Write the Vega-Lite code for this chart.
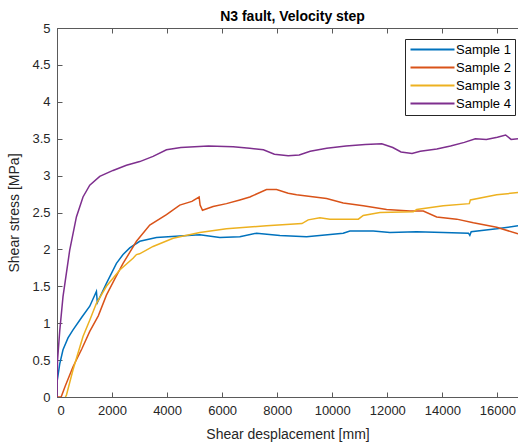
{
  "$schema": "https://vega.github.io/schema/vega-lite/v6.json",
  "width": 461,
  "height": 369,
  "autosize": {"type": "none"},
  "padding": {"left": 57, "top": 28, "right": 0, "bottom": 50},
  "background": "white",
  "title": {"text": "N3 fault, Velocity step", "font": "Liberation Sans", "fontSize": 14, "fontWeight": "bold", "color": "#000000", "anchor": "middle", "baseline": "bottom", "offset": -16, "dx": 5},
  "config": {
    "view": {"stroke": null},
    "font": "Liberation Sans",
    "axis": {"grid": false, "domainColor": "#5a5a5a", "tickColor": "#5a5a5a", "labelColor": "#262626", "titleColor": "#262626", "labelFont": "Liberation Sans", "titleFont": "Liberation Sans", "labelFontSize": 13, "titleFontSize": 14, "titleFontWeight": "normal", "tickSize": -5, "labelPadding": 12}
  },
  "data": {"values": [
    {"s":"Sample 1","x":0,"y":0.2},{"s":"Sample 1","x":100,"y":0.45},{"s":"Sample 1","x":218,"y":0.64},{"s":"Sample 1","x":400,"y":0.8},{"s":"Sample 1","x":582,"y":0.91},{"s":"Sample 1","x":900,"y":1.08},{"s":"Sample 1","x":1190,"y":1.23},{"s":"Sample 1","x":1432,"y":1.43},{"s":"Sample 1","x":1465,"y":1.28},{"s":"Sample 1","x":1796,"y":1.54},{"s":"Sample 1","x":2160,"y":1.81},{"s":"Sample 1","x":2400,"y":1.93},{"s":"Sample 1","x":2643,"y":2.02},{"s":"Sample 1","x":3007,"y":2.11},{"s":"Sample 1","x":3614,"y":2.16},{"s":"Sample 1","x":4461,"y":2.18},{"s":"Sample 1","x":5188,"y":2.2},{"s":"Sample 1","x":5916,"y":2.16},{"s":"Sample 1","x":6643,"y":2.17},{"s":"Sample 1","x":7250,"y":2.22},{"s":"Sample 1","x":8098,"y":2.19},{"s":"Sample 1","x":9068,"y":2.17},{"s":"Sample 1","x":10400,"y":2.22},{"s":"Sample 1","x":10643,"y":2.25},{"s":"Sample 1","x":11490,"y":2.25},{"s":"Sample 1","x":12097,"y":2.23},{"s":"Sample 1","x":13067,"y":2.24},{"s":"Sample 1","x":14036,"y":2.23},{"s":"Sample 1","x":14950,"y":2.22},{"s":"Sample 1","x":15000,"y":2.19},{"s":"Sample 1","x":15050,"y":2.24},{"s":"Sample 1","x":15976,"y":2.28},{"s":"Sample 1","x":16750,"y":2.32},
    {"s":"Sample 2","x":0,"y":0},{"s":"Sample 2","x":150,"y":0},{"s":"Sample 2","x":300,"y":0.15},{"s":"Sample 2","x":582,"y":0.41},{"s":"Sample 2","x":900,"y":0.65},{"s":"Sample 2","x":1190,"y":0.89},{"s":"Sample 2","x":1500,"y":1.1},{"s":"Sample 2","x":1796,"y":1.38},{"s":"Sample 2","x":2100,"y":1.6},{"s":"Sample 2","x":2400,"y":1.81},{"s":"Sample 2","x":2887,"y":2.11},{"s":"Sample 2","x":3370,"y":2.33},{"s":"Sample 2","x":3978,"y":2.47},{"s":"Sample 2","x":4461,"y":2.6},{"s":"Sample 2","x":4900,"y":2.65},{"s":"Sample 2","x":5164,"y":2.71},{"s":"Sample 2","x":5200,"y":2.6},{"s":"Sample 2","x":5286,"y":2.53},{"s":"Sample 2","x":5672,"y":2.58},{"s":"Sample 2","x":6158,"y":2.62},{"s":"Sample 2","x":6643,"y":2.67},{"s":"Sample 2","x":7007,"y":2.71},{"s":"Sample 2","x":7613,"y":2.81},{"s":"Sample 2","x":7977,"y":2.81},{"s":"Sample 2","x":8400,"y":2.76},{"s":"Sample 2","x":8704,"y":2.74},{"s":"Sample 2","x":9795,"y":2.69},{"s":"Sample 2","x":10400,"y":2.63},{"s":"Sample 2","x":11127,"y":2.59},{"s":"Sample 2","x":11976,"y":2.54},{"s":"Sample 2","x":12824,"y":2.52},{"s":"Sample 2","x":13309,"y":2.52},{"s":"Sample 2","x":13795,"y":2.44},{"s":"Sample 2","x":14522,"y":2.41},{"s":"Sample 2","x":15128,"y":2.36},{"s":"Sample 2","x":15976,"y":2.3},{"s":"Sample 2","x":16750,"y":2.21},
    {"s":"Sample 3","x":300,"y":0},{"s":"Sample 3","x":340,"y":0.02},{"s":"Sample 3","x":582,"y":0.37},{"s":"Sample 3","x":945,"y":0.82},{"s":"Sample 3","x":1200,"y":1.05},{"s":"Sample 3","x":1432,"y":1.27},{"s":"Sample 3","x":1796,"y":1.5},{"s":"Sample 3","x":2280,"y":1.72},{"s":"Sample 3","x":2763,"y":1.88},{"s":"Sample 3","x":2887,"y":1.93},{"s":"Sample 3","x":3000,"y":1.94},{"s":"Sample 3","x":3490,"y":2.04},{"s":"Sample 3","x":4218,"y":2.15},{"s":"Sample 3","x":5188,"y":2.23},{"s":"Sample 3","x":6158,"y":2.28},{"s":"Sample 3","x":7613,"y":2.32},{"s":"Sample 3","x":8900,"y":2.35},{"s":"Sample 3","x":9127,"y":2.4},{"s":"Sample 3","x":9552,"y":2.43},{"s":"Sample 3","x":9916,"y":2.41},{"s":"Sample 3","x":10950,"y":2.41},{"s":"Sample 3","x":11127,"y":2.46},{"s":"Sample 3","x":11733,"y":2.5},{"s":"Sample 3","x":12945,"y":2.51},{"s":"Sample 3","x":13067,"y":2.54},{"s":"Sample 3","x":14036,"y":2.59},{"s":"Sample 3","x":14980,"y":2.62},{"s":"Sample 3","x":15020,"y":2.67},{"s":"Sample 3","x":15976,"y":2.74},{"s":"Sample 3","x":16750,"y":2.77},
    {"s":"Sample 4","x":0,"y":0},{"s":"Sample 4","x":20,"y":0.5},{"s":"Sample 4","x":100,"y":0.9},{"s":"Sample 4","x":218,"y":1.36},{"s":"Sample 4","x":462,"y":1.99},{"s":"Sample 4","x":705,"y":2.44},{"s":"Sample 4","x":945,"y":2.71},{"s":"Sample 4","x":1190,"y":2.87},{"s":"Sample 4","x":1553,"y":2.99},{"s":"Sample 4","x":2036,"y":3.07},{"s":"Sample 4","x":2523,"y":3.14},{"s":"Sample 4","x":3007,"y":3.19},{"s":"Sample 4","x":3490,"y":3.26},{"s":"Sample 4","x":3978,"y":3.35},{"s":"Sample 4","x":4500,"y":3.38},{"s":"Sample 4","x":5500,"y":3.4},{"s":"Sample 4","x":6400,"y":3.39},{"s":"Sample 4","x":7000,"y":3.37},{"s":"Sample 4","x":7500,"y":3.35},{"s":"Sample 4","x":7900,"y":3.29},{"s":"Sample 4","x":8400,"y":3.27},{"s":"Sample 4","x":8800,"y":3.28},{"s":"Sample 4","x":9200,"y":3.33},{"s":"Sample 4","x":9800,"y":3.37},{"s":"Sample 4","x":10500,"y":3.4},{"s":"Sample 4","x":11200,"y":3.42},{"s":"Sample 4","x":11800,"y":3.43},{"s":"Sample 4","x":12200,"y":3.38},{"s":"Sample 4","x":12500,"y":3.32},{"s":"Sample 4","x":12900,"y":3.3},{"s":"Sample 4","x":13200,"y":3.33},{"s":"Sample 4","x":13800,"y":3.36},{"s":"Sample 4","x":14300,"y":3.4},{"s":"Sample 4","x":14800,"y":3.45},{"s":"Sample 4","x":15200,"y":3.5},{"s":"Sample 4","x":15600,"y":3.49},{"s":"Sample 4","x":16000,"y":3.52},{"s":"Sample 4","x":16300,"y":3.55},{"s":"Sample 4","x":16500,"y":3.49},{"s":"Sample 4","x":16750,"y":3.5}
  ]},
  "layer": [
    {
      "mark": {"type": "line", "strokeWidth": 1.5, "clip": true},
      "encoding": {
        "x": {"field": "x", "type": "quantitative", "scale": {"domain": [0, 16750], "nice": false, "zero": false},
              "axis": {"title": "Shear desplacement [mm]", "values": [0,2000,4000,6000,8000,10000,12000,14000,16000], "format": "d", "titlePadding": 10}},
        "y": {"field": "y", "type": "quantitative", "scale": {"domain": [0, 5], "nice": false},
              "axis": {"title": "Shear stress [MPa]", "values": [0,0.5,1,1.5,2,2.5,3,3.5,4,4.5,5], "format": "~g", "titlePadding": 10}},
        "color": {"field": "s", "type": "nominal",
                  "scale": {"domain": ["Sample 1","Sample 2","Sample 3","Sample 4"], "range": ["#0072BD","#D95319","#EDB120","#7E2F8E"]},
                  "legend": {"title": null, "orient": "none", "legendX": 348, "legendY": 11, "strokeColor": "#262626", "fillColor": "white", "padding": 4, "symbolType": "M-4,0H4", "symbolSize": 121, "symbolOffset": 17, "symbolStrokeWidth": 2, "labelFontSize": 13, "labelColor": "#000000", "labelOffset": 17, "rowPadding": 4}}
      }
    },
    {
      "mark": {"type": "rule", "strokeOpacity": 0},
      "encoding": {
        "x": {"field": "x", "type": "quantitative", "axis": {"orient": "top", "labels": false, "title": null, "values": [0,2000,4000,6000,8000,10000,12000,14000,16000]}}
      }
    }
  ],
  "resolve": {"axis": {"x": "independent"}}
}
